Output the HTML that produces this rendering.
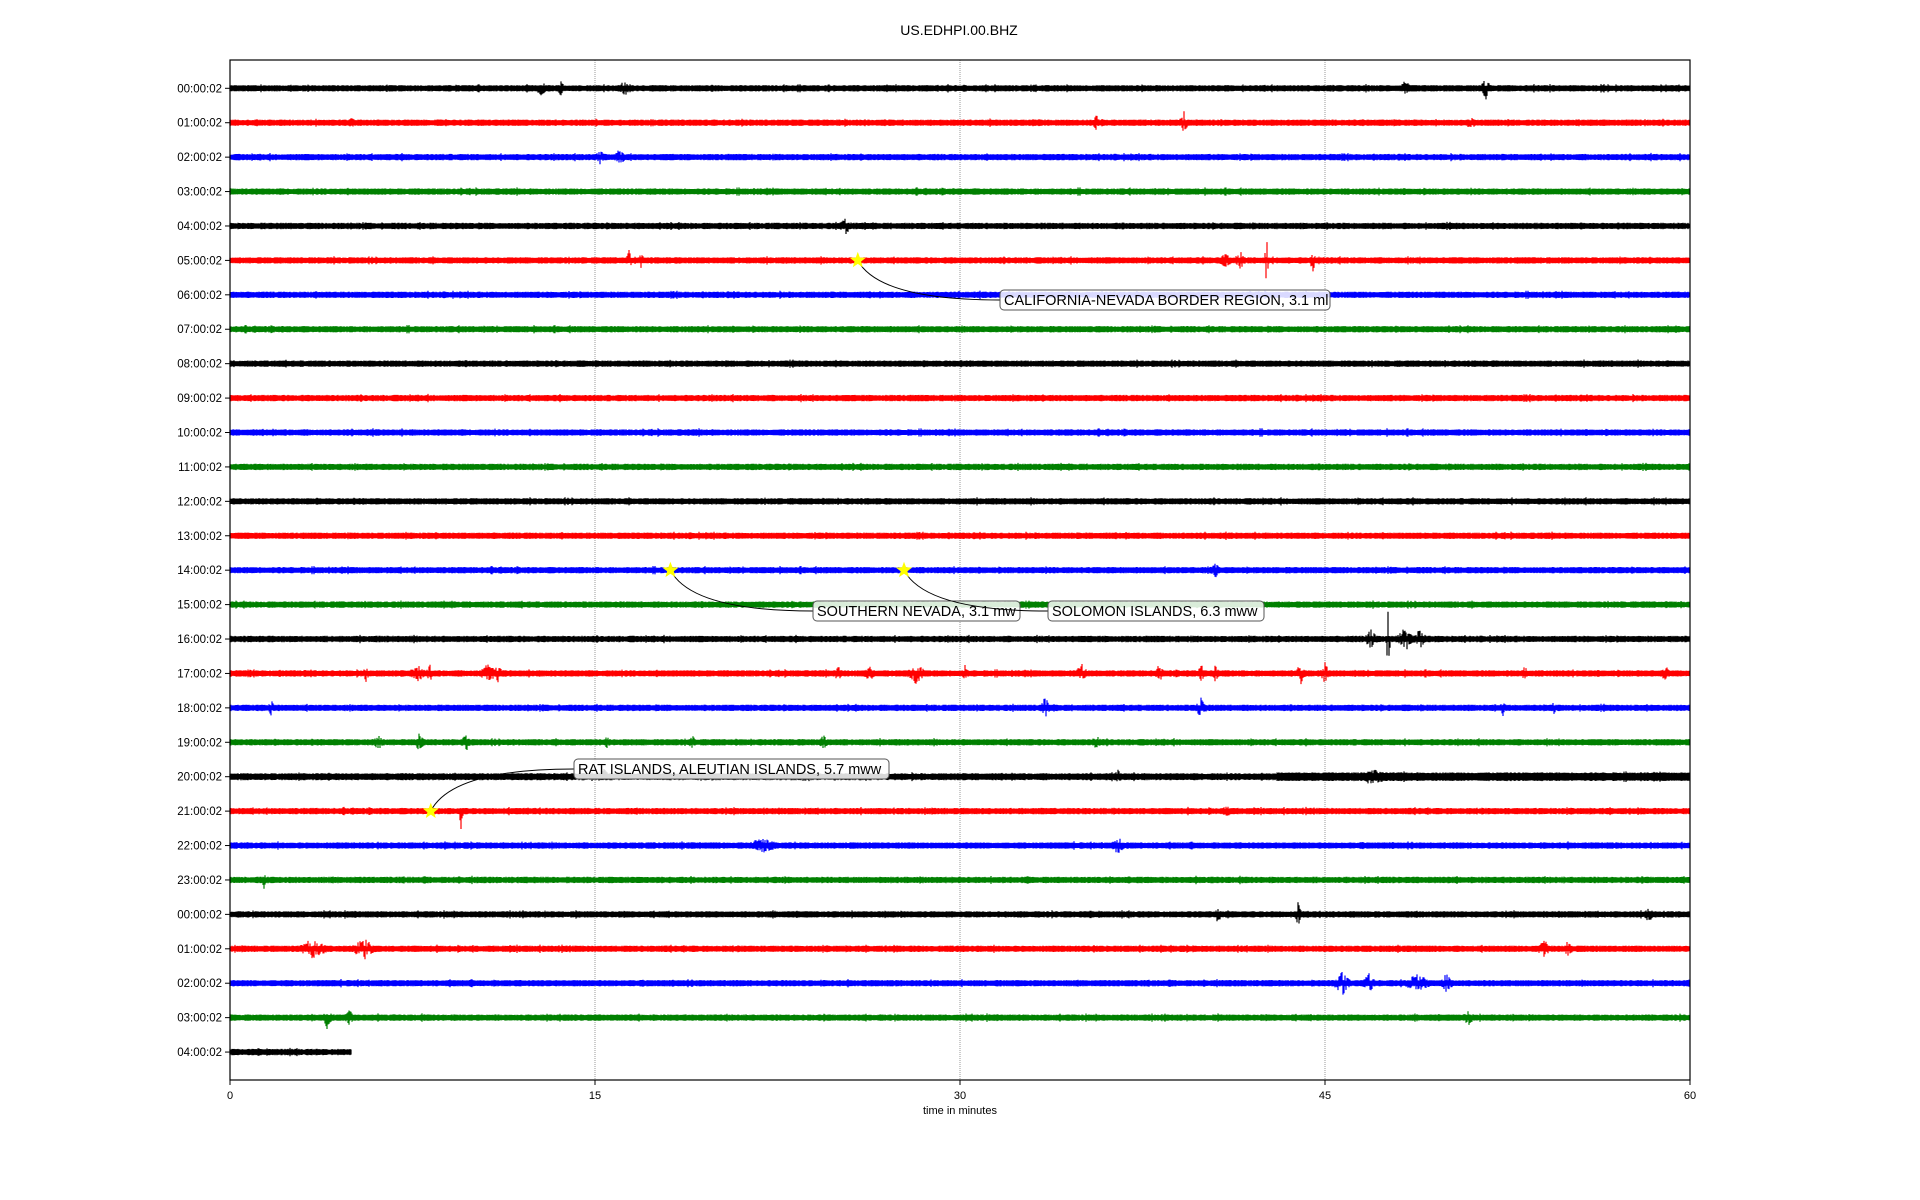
<!DOCTYPE html>
<html><head><meta charset="utf-8"><style>
html,body{margin:0;padding:0;background:#fff;}
svg{display:block;font-family:"Liberation Sans","DejaVu Sans",sans-serif;}
</style></head><body>
<svg id="s" width="1920" height="1200" xmlns="http://www.w3.org/2000/svg">
<rect width="1920" height="1200" fill="#fff"/>
<text x="959" y="35" font-size="14" text-anchor="middle">US.EDHPI.00.BHZ</text>
<g id="grid"></g>
<g id="traces"></g>
<rect x="230" y="60" width="1460" height="1020" fill="none" stroke="#000" stroke-width="1.2"/>
<g id="ticks" font-size="11.5"></g>
<text x="960" y="1114" font-size="11" text-anchor="middle">time in minutes</text>
<g id="ann"></g>
</svg>
<script>
var NS="http://www.w3.org/2000/svg";
var L=230,R=1690,T=60,B=1080,W=1460,y0=88.3,dy=34.42;
function el(p,t,a,txt){var e=document.createElementNS(NS,t);for(var k in a)e.setAttribute(k,a[k]);if(txt)e.textContent=txt;p.appendChild(e);return e;}
var seed=12345;function rnd(){seed=(seed*1103515245+12345)%2147483648;return seed/2147483648;}
function gx(m){return L+m/60*W;}
var g=document.getElementById('grid');
[15,30,45].forEach(function(m){el(g,'line',{x1:gx(m),x2:gx(m),y1:T,y2:B,stroke:'#999','stroke-width':1,'stroke-dasharray':'1,1'});});
var tk=document.getElementById('ticks');
[0,15,30,45,60].forEach(function(m){el(tk,'line',{x1:gx(m),x2:gx(m),y1:B,y2:B+5,stroke:'#000'});el(tk,'text',{x:gx(m),y:B+19,'text-anchor':'middle','font-size':11},String(m));});
var cols=['#000','#f00','#00f','#008000'];
var ev={
0:[[12.8,8,0.3],[13.6,6,0.2],[16.2,7,0.3],[48.3,6,0.3],[51.6,12,0.3]],
1:[[5,3,0.3],[35.6,7,0.2],[39.2,10,0.3],[51,4,0.3]],
2:[[15.2,6,0.3],[16,6,0.4]],
4:[[25.3,6,0.4]],
5:[[16.4,8,0.2],[16.9,5,0.2],[40.9,7,0.4],[41.5,9,0.3],[42.6,32,0.15],[44.5,10,0.2]],
14:[[40.5,6,0.3]],
16:[[46.9,10,0.4],[47.6,44,0.15],[48.3,10,0.6],[48.9,8,0.4]],
17:[[5.6,8,0.2],[7.7,7,0.5],[8.2,8,0.2],[10.6,9,0.5],[11,7,0.3],[25,6,0.3],[26.3,6,0.4],[28.2,9,0.6],[30.2,6,0.2],[35,8,0.4],[38.2,6,0.3],[39.9,10,0.2],[40.5,9,0.2],[44,10,0.3],[45,9,0.3],[53.2,7,0.2],[59,5,0.3]],
18:[[1.7,7,0.2],[33.5,9,0.3],[39.9,8,0.4],[52.3,7,0.2],[54.4,6,0.2]],
19:[[6.1,7,0.3],[7.8,9,0.3],[9.7,7,0.3],[15.5,5,0.2],[19,5,0.2],[24.4,6,0.3],[35.6,5,0.3]],
20:[[15.4,8,0.2],[36.5,5,0.2],[47,4,0.8]],
21:[[9.5,-18,0.15],[41,6,0.2]],
22:[[21.9,6,1],[36.5,7,0.4]],
23:[[1.4,7,0.15]],
24:[[40.6,8,0.2],[43.9,14,0.2],[58.3,6,0.3]],
25:[[3.4,8,1],[5.5,9,0.8],[54,8,0.4],[55,7,0.3]],
26:[[45.7,10,0.6],[46.8,9,0.4],[48.8,7,1],[50,8,0.4]],
27:[[4,9,0.3],[4.9,7,0.3],[50.9,5,0.4]]
};
var tg=document.getElementById('traces');
var hours=[];for(var i=0;i<29;i++)hours.push(('0'+(i%24)).slice(-2)+':00:02');
for(var r=0;r<29;r++){
 var y=y0+r*dy,c=cols[r%4],d='';
 var end=(r==28)?gx(5):R;
 var base=2.8; if(r==20)base=3.1;
 var es=ev[r]||[];
 for(var x=L;x<end;x+=1){
  var m=(x-L)/W*60;var a=base*(0.85+0.3*rnd());
  if(rnd()<0.02)a+=1;
  if(r==20&&m>43)a+=0.8;
  var up=a,dn=a;
  for(var k=0;k<es.length;k++){var e=es[k],w=e[2]*0.7,dd=Math.abs(m-e[0]);if(dd<w){var f=1-dd/w;f=Math.pow(f,1.5);var A=Math.abs(e[1])*f*(0.4+0.6*rnd());if(e[1]<0)dn+=A;else{var s=rnd();if(s<0.4)up+=A;else if(s<0.8)dn+=A;else{up+=A*0.7;dn+=A*0.7;}}}}
  d+='M'+x+' '+(y-up).toFixed(1)+'V'+(y+dn).toFixed(1);
 }
 el(tg,'path',{d:d,stroke:c,'stroke-width':1.2,fill:'none'});
 el(tk,'line',{x1:L-5,x2:L,y1:y,y2:y,stroke:'#000'});
 el(tk,'text',{x:L-8,y:y+4,'text-anchor':'end'},hours[r]);
}
var an=document.getElementById('ann');
function star(cx,cy){var p='';for(var i=0;i<10;i++){var rr=i%2?3.5:8.5,t=-Math.PI/2+i*Math.PI/5;p+=(cx+rr*Math.cos(t)).toFixed(1)+','+(cy+rr*Math.sin(t)).toFixed(1)+' ';}el(an,'polygon',{points:p,fill:'#ff0'});}
function note(m,row,bx,by,txt,w){var sx=gx(m),sy=y0+row*dy;
 el(an,'path',{d:'M'+sx+' '+sy+' Q'+(sx+(bx-sx)*0.15)+' '+by+' '+bx+' '+by,fill:'none',stroke:'#000','stroke-width':1});
 el(an,'rect',{x:bx,y:by-10,width:w,height:20,rx:4,fill:'#fff','fill-opacity':0.85,stroke:'#555'});
 el(an,'text',{x:bx+4,y:by+5,'font-size':14.5},txt);star(sx,sy);}
note(25.8,5,1000,300,'CALIFORNIA-NEVADA BORDER REGION, 3.1 ml',330);
note(18.1,14,813,611,'SOUTHERN NEVADA, 3.1 mw',207);
note(27.7,14,1048,611,'SOLOMON ISLANDS, 6.3 mww',216);
note(8.25,21,574,769,'RAT ISLANDS, ALEUTIAN ISLANDS, 5.7 mww',315);
</script>
</body></html>
